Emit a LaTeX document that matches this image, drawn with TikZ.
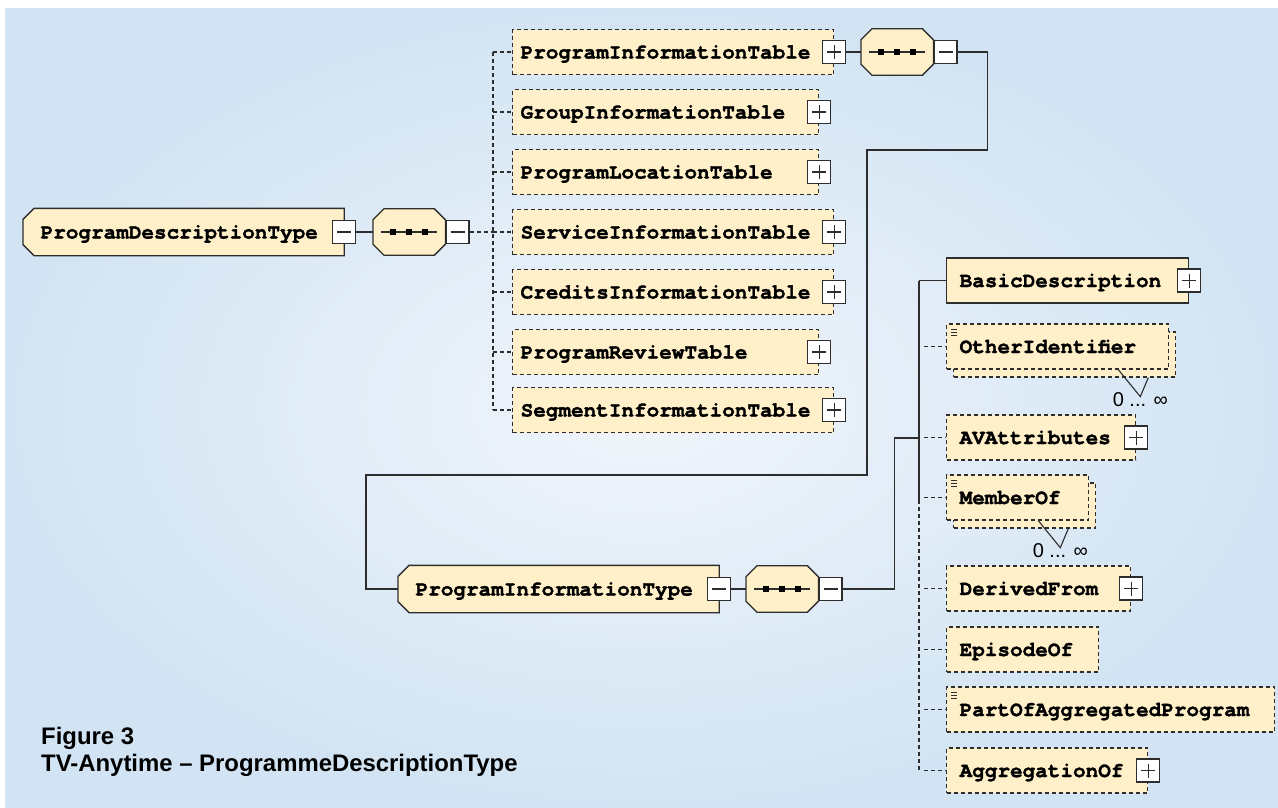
\documentclass[tikz,border=0pt]{standalone}
\usepackage{fontspec}
\setmainfont{Liberation Sans}
\setmonofont{texgyrecursor}[Extension=.otf, UprightFont=*-regular, BoldFont=*-bold, BoldFeatures={FakeBold=1.6}]
\usetikzlibrary{backgrounds}
\definecolor{bgblue}{RGB}{210,228,243}
\definecolor{bglight}{RGB}{241,245,251}
\definecolor{cream}{RGB}{255,240,201}
\definecolor{edge}{RGB}{45,45,45}

% compositor: octagon with the three dots
\newcommand{\seqshape}[1]{%
  \draw[draw=edge, fill=cream, line width=1.3pt] ([xshift=11pt]#1.north west) -- ([xshift=-11pt]#1.north east) -- ([yshift=-11pt]#1.north east) -- ([yshift=11pt]#1.south east) -- ([xshift=-11pt]#1.south east) -- ([xshift=11pt]#1.south west) -- ([yshift=11pt]#1.south west) -- ([yshift=-11pt]#1.north west) -- cycle;
  \draw[edge, line width=1.1pt] ([xshift=8pt]#1.west) -- ([xshift=-8pt]#1.east);
  \foreach \dx in {-16,0,16} {\fill ([xshift=\dx pt]#1.center) +(-3pt,-3pt) rectangle +(3pt,3pt);}
}
% type box: left corners cut
\newcommand{\typeshape}[1]{%
  \draw[draw=edge, fill=cream, line width=1.3pt] ([xshift=11pt]#1.north west) -- (#1.north east) -- (#1.south east) -- ([xshift=11pt]#1.south west) -- ([yshift=11pt]#1.south west) -- ([yshift=-11pt]#1.north west) -- cycle;
}
% 0..unbounded mark
\newcommand{\manymark}[1]{%
  \draw[edge, line width=1.1pt] ([xshift=-51pt]#1.south east) -- ++(22,27) -- ++(8,-19);
  \node[mult] (#1-n) at ([shift={(-29,37)}]#1.south east) {0 ... ∞};
}
% small text icon
\newcommand{\textmark}[1]{%
  \foreach \dy in {6,9,12} {\draw[edge, line width=0.8pt] ([shift={(5,\dy)}]#1.north west) -- ++(6,0);}
}

\begin{document}
\begin{tikzpicture}[x=1pt, y=-1pt,
    conn/.style={draw=edge, line width=1.4pt},
    opt/.style={dash pattern=on 4pt off 3pt},
    elem/.style 2 args={draw=edge, fill=cream, line width=1.3pt, anchor=west,
      minimum width=#1pt, minimum height=45pt, text width=#2pt, inner xsep=0pt,
      align=left, text height=17pt, text depth=4pt,
      font=\ttfamily\bfseries\fontsize{21}{24}\selectfont},
    typebox/.style={elem={320}{286}, draw=none, fill=none, minimum height=46pt},
    seqbox/.style={anchor=west, minimum width=72pt, minimum height=46pt, inner sep=0pt},
    pm/.style={draw=edge, fill=white, line width=1.2pt, minimum size=23pt, inner sep=0pt},
    minus/.style={pm, path picture={\draw[edge, line width=1.1pt] ([xshift=-7pt]path picture bounding box.center) -- ([xshift=7pt]path picture bounding box.center);}},
    plus/.style={pm, path picture={\draw[edge, line width=1.1pt] ([xshift=-7pt]path picture bounding box.center) -- ([xshift=7pt]path picture bounding box.center) ([yshift=-7pt]path picture bounding box.center) -- ([yshift=7pt]path picture bounding box.center);}},
    mult/.style={font=\fontsize{20}{22}\selectfont, anchor=base, inner sep=0pt},
    caption/.style={font=\bfseries\fontsize{23.9}{27}\selectfont, anchor=base west, inner sep=0pt}]
  \useasboundingbox (0,0) rectangle (1278,807);
  \begin{scope}[on background layer]
    \shade[inner color=bglight, outer color=bgblue] (5,8) rectangle (1278,807);
  \end{scope}

  % ProgramDescriptionType and its sequence
  \node[typebox] (pdt) at (23,232) {ProgramDescriptionType};
  \begin{scope}[on background layer]\typeshape{pdt}\end{scope}
  \node[minus] (pdt-m) at (pdt.east) {};
  \node[seqbox] (seq1) at (373,232) {};
  \seqshape{seq1}
  \node[minus, anchor=west] (seq1-m) at (seq1.east) {};
  \draw[conn] (pdt-m.east) -- (seq1.west);

  % the tables
  \node[elem={321}{305}, opt] (pit) at (512,52) {ProgramInformationTable};
  \node[elem={306}{290}, opt] (git) at (512,112) {GroupInformationTable};
  \node[elem={306}{290}, opt] (plt) at (512,172) {ProgramLocationTable};
  \node[elem={321}{305}, opt] (sit) at (512,232) {ServiceInformationTable};
  \node[elem={321}{305}, opt] (cit) at (512,292) {CreditsInformationTable};
  \node[elem={306}{290}, opt] (prt) at (512,352) {ProgramReviewTable};
  \node[elem={321}{305}, opt] (segit) at (512,410) {SegmentInformationTable};
  \foreach \n in {pit,git,plt,sit,cit,prt,segit} {\node[plus] (\n-p) at (\n.east) {};}

  \coordinate (bus) at (493,232);
  \draw[conn, opt] (seq1-m.east) -- (bus);
  \draw[conn, opt] (pit.west -| bus) -- (segit.west -| bus);
  \foreach \n in {pit,git,plt,sit,cit,prt,segit} {\draw[conn, opt] (\n.west -| bus) -- (\n.west);}

  % ProgramInformationTable content
  \node[seqbox] (seq2) at (861,52) {};
  \seqshape{seq2}
  \node[minus, anchor=west] (seq2-m) at (seq2.east) {};
  \draw[conn] (pit-p.east) -- (seq2.west);

  % ProgramInformationType and its sequence
  \node[typebox] (ptype) at (398,589) {ProgramInformationType};
  \begin{scope}[on background layer]\typeshape{ptype}\end{scope}
  \node[minus] (ptype-m) at (ptype.east) {};
  \node[seqbox] (seq3) at (746,589) {};
  \seqshape{seq3}
  \node[minus, anchor=west] (seq3-m) at (seq3.east) {};
  \draw[conn] (ptype-m.east) -- (seq3.west);
  \draw[conn] (seq2-m.east) -- ++(30,0) -- ++(0,98) -| (867,475) -- (366,475) |- (ptype.west);

  % children of ProgramInformationType
  \node[elem={242}{216}] (bd) at (946,280.5) {BasicDescription};
  \node[elem={222}{196}, opt] (oid-b) at (953,354.5) {};
  \node[elem={222}{196}, opt] (oid) at (946,346.5) {OtherIdentifier};
  \node[elem={189}{163}, opt] (ava) at (946,437.5) {AVAttributes};
  \node[elem={142}{116}, opt] (mof-b) at (953,505.5) {};
  \node[elem={142}{116}, opt] (mof) at (946,497.5) {MemberOf};
  \node[elem={184}{158}, opt] (dfr) at (946,588.5) {DerivedFrom};
  \node[elem={152}{126}, opt] (eof) at (946,649.5) {EpisodeOf};
  \node[elem={328}{302}, opt] (pap) at (946,709.5) {PartOfAggregatedProgram};
  \node[elem={201}{175}, opt] (agg) at (946,770.5) {AggregationOf};
  \foreach \n in {bd,ava,dfr,agg} {\node[plus] (\n-p) at (\n.east) {};}
  \foreach \n in {oid,mof,pap} {\textmark{\n}}
  \manymark{oid}
  \manymark{mof}

  \coordinate (rbus) at (919,438);
  \coordinate (rsplit) at (919,500);
  \draw[conn] (seq3-m.east) -- ++(52,0) |- (rbus);
  \draw[conn] (bd.west -| rbus) -- (rsplit);
  \draw[conn, opt] (rsplit) -- (agg.west -| rbus);
  \draw[conn] (bd.west -| rbus) -- (bd.west);
  \foreach \n in {oid,ava,mof,dfr,eof,pap,agg} {\draw[conn, opt] ([xshift=5pt]\n.west -| rbus) -- (\n.west);}

  % caption
  \node[caption] (fig) at (41,744) {Figure 3};
  \node[caption] (figtitle) at ([yshift=-27pt]fig.base west) {TV-Anytime – ProgrammeDescriptionType};
\end{tikzpicture}
\end{document}
